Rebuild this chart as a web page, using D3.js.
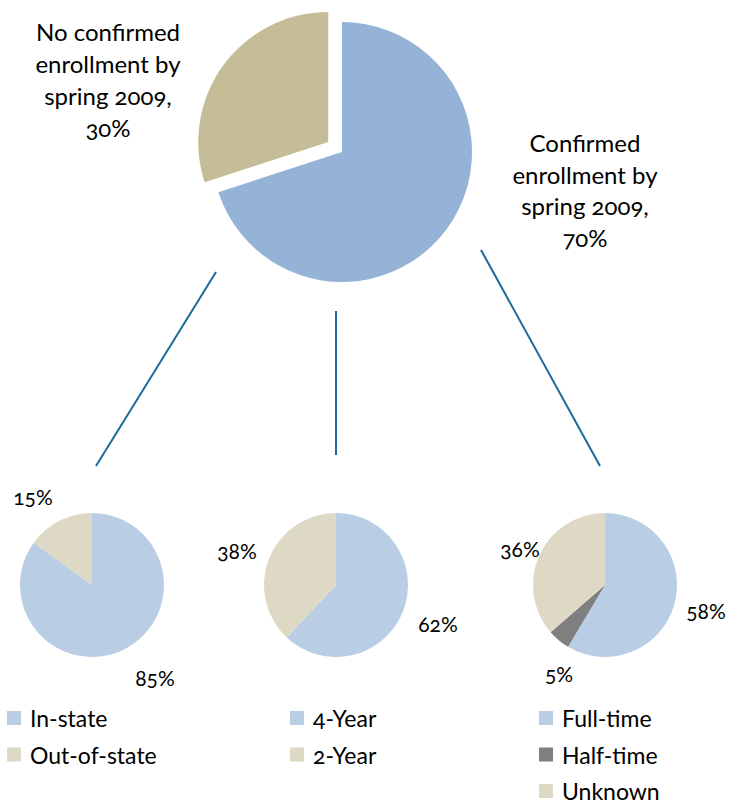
<!DOCTYPE html>
<html><head><meta charset="utf-8">
<script src="https://cdn.jsdelivr.net/npm/d3@7"></script>
<style>
body{margin:0;background:#fff;}
text{font-family:Lato,"Open Sans",sans-serif;fill:#000;font-variant-numeric:oldstyle-nums;}
</style></head><body>
<svg id="c" width="729" height="804"></svg>
<script>
// ---- data ----
const mainCats = ["Confirmed enrollment by spring 2009", "No confirmed enrollment by spring 2009"];
const mainVals = [70, 30];
const stateCats = ["In-state", "Out-of-state"];
const stateVals = [85, 15];
const typeCats = ["4-Year", "2-Year"];
const typeVals = [62, 38];
const timeCats = ["Full-time", "Half-time", "Unknown"];
const timeVals = [58, 5, 36];

// ---- layout ----
const svg = d3.select("#c");
const mainColor = d3.scaleOrdinal().domain(mainCats).range(["#95B3D7", "#C4BD97"]);
const pie = d3.pie().sort(null).value(d => d.v);

// main pie
const mainC = [342, 152], mainR = 130, explode = 17;
const mainData = pie(mainCats.map((c, i) => ({c, v: mainVals[i]})));
const mainArc = d3.arc().innerRadius(0).outerRadius(mainR);
svg.append("g").attr("transform", `translate(${mainC})`)
  .selectAll("path").data(mainData).join("path")
  .attr("d", mainArc)
  .attr("fill", d => mainColor(d.data.c))
  .attr("transform", (d, i) => {
    if (i === 0) return null;
    const a = (d.startAngle + d.endAngle) / 2;
    return `translate(${Math.sin(a) * explode},${-Math.cos(a) * explode})`;
  });

function multiLabel(x, y, lines, lh) {
  const t = svg.append("text").attr("text-anchor", "middle").attr("font-size", 24);
  lines.forEach((l, i) => t.append("tspan").attr("x", x).attr("y", y + i * lh).text(l));
}
multiLabel(108, 41, ["No confirmed", "enrollment by", "spring 2009,", mainVals[1] + "%"], 32);
multiLabel(585, 152, ["Confirmed", "enrollment by", "spring 2009,", mainVals[0] + "%"], 31.7);

// connectors
const conn = [[[216, 272], [96, 466]], [[336, 311], [336, 455]], [[481, 250], [600, 466]]];
svg.append("g").selectAll("line").data(conn).join("line")
  .attr("x1", d => d[0][0]).attr("y1", d => d[0][1])
  .attr("x2", d => d[1][0]).attr("y2", d => d[1][1])
  .attr("stroke", "#1C6A9B").attr("stroke-width", 2);

// small pies
const smallR = 72;
const smallArc = d3.arc().innerRadius(0).outerRadius(smallR);
const small = [
  {cats: stateCats, vals: stateVals, cx: 92, colors: ["#B9CDE5", "#DDD9C4"],
   lab: [[63, 94], [-59, -87]], legX: 7},
  {cats: typeCats, vals: typeVals, cx: 336, colors: ["#B9CDE5", "#DDD9C4"],
   lab: [[102, 40], [-99, -33]], legX: 290},
  {cats: timeCats, vals: timeVals, cx: 605, colors: ["#B9CDE5", "#7F7F7F", "#DDD9C4"],
   lab: [[101, 27], [-46, 90], [-85, -35]], legX: 539}
];
const cy = 585;
small.forEach(s => {
  const col = d3.scaleOrdinal().domain(s.cats).range(s.colors);
  const data = pie(s.cats.map((c, i) => ({c, v: s.vals[i]})));
  const g = svg.append("g").attr("transform", `translate(${s.cx},${cy})`);
  g.selectAll("path").data(data).join("path")
    .attr("d", smallArc).attr("fill", d => col(d.data.c));
  g.selectAll("text").data(data).join("text")
    .attr("x", (d, i) => s.lab[i][0]).attr("y", (d, i) => s.lab[i][1])
    .attr("dy", "0.35em").attr("text-anchor", "middle").attr("font-size", 21)
    .text(d => d.data.v + "%");
  // legend
  const leg = svg.append("g").selectAll("g").data(s.cats).join("g")
    .attr("transform", (d, i) => `translate(${s.legX},${727 + i * 36.5})`);
  leg.append("rect").attr("x", 0).attr("y", -16).attr("width", 14).attr("height", 14)
    .attr("fill", d => col(d));
  leg.append("text").attr("x", 23).attr("font-size", 23).text(d => d);
});
</script></body></html>
